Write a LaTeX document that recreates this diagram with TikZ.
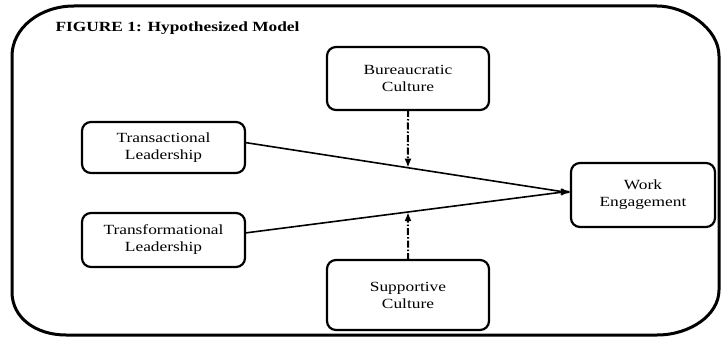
\documentclass[tikz,border=0pt]{standalone}
\usepackage{fontspec}
\setmainfont{Liberation Serif}[FakeStretch=1.24]
\usepackage{xcolor}
\usetikzlibrary{arrows.meta}

\begin{document}
\begin{tikzpicture}[
    x=1pt, y=-1pt,
    box/.style={
        draw,
        line width=2.2pt,
        rounded corners=9pt,
        align=center,
        font=\fontsize{14}{17}\selectfont,
        inner sep=0pt,
        outer sep=0pt
    },
    arrow/.style={-{Latex[length=10pt,width=7pt]}, line width=1.6pt},
    modarrow/.style={-{Latex[length=9pt,width=7pt]}, line width=2pt,
        dash pattern=on 7pt off 2pt on 1.5pt off 2pt}
]
\useasboundingbox (0,0) rectangle (721,337);

% frame
\draw[line width=3pt] (12,56) .. controls (12,28) and (40,6) .. (74,6)
    -- (657,6) .. controls (685,6) and (719,28) .. (719,56)
    -- (719,290) .. controls (719,315) and (690,335) .. (657,335)
    -- (66,335) .. controls (36,335) and (12,318) .. (12,292) -- cycle;

\node[anchor=base west, font=\fontsize{14}{17}\selectfont\bfseries] (title) at (52,32) {FIGURE 1: Hypothesized Model};

\node[box, minimum width=163pt, minimum height=51pt] (transac) at (163.5,147.5) {Transactional\\Leadership};
\node[box, minimum width=163pt, minimum height=54pt] (transf) at (163.5,240) {Transformational\\Leadership};
\node[box, minimum width=162pt, minimum height=63pt] (bureau) at (408,78.5) {Bureaucratic\\Culture};
\node[box, minimum width=162pt, minimum height=70pt] (support) at (408,295) {Supportive\\Culture};
\node[box, minimum width=144pt, minimum height=64pt] (engage) at (643,195) {Work\\Engagement};

\coordinate (transac-out) at ([yshift=5pt]transac.east);
\coordinate (transf-out) at ([yshift=7pt]transf.east);
\coordinate (engage-in1) at ([yshift=2pt]engage.west);
\coordinate (engage-in2) at ([yshift=4pt]engage.west);

\draw[arrow] (transac-out) -- (engage-in1);
\draw[arrow] (transf-out) -- (engage-in2);

\draw[modarrow] (bureau.south) -- (intersection of bureau.south--support.north and transac-out--engage-in1);
\draw[modarrow] (support.north) -- (intersection of bureau.south--support.north and transf-out--engage-in2);

\end{tikzpicture}
\end{document}
